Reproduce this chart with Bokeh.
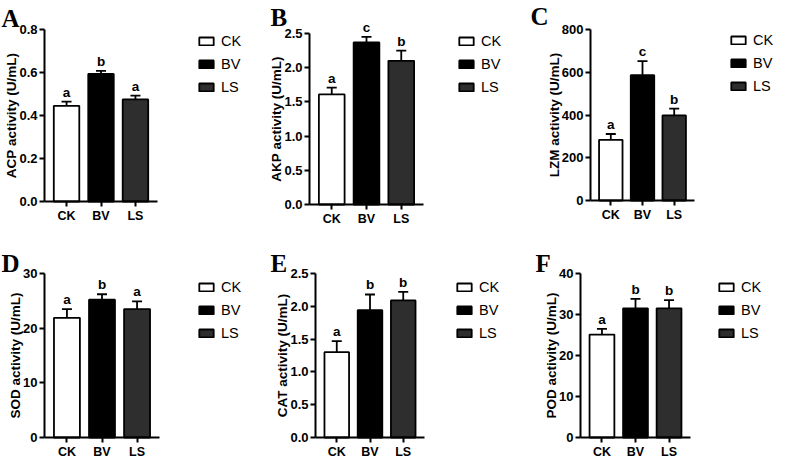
from bokeh.plotting import figure
from bokeh.models import (Range1d, FixedTicker, ColumnDataSource, Whisker,
                          TeeHead, Legend, LegendItem, Label, NumeralTickFormatter)
from bokeh.layouts import column, row
from bokeh.embed import file_html
from bokeh.resources import INLINE
from bokeh.core.properties import value

# ---------------- data ----------------
groups = ["CK", "BV", "LS"]
bar_colors = ["#ffffff", "#000000", "#2e2e2e"]

acp_mean = [0.445, 0.593, 0.475]
acp_sd = [0.020, 0.015, 0.017]
acp_letters = ["a", "b", "a"]
acp_ticks = [0.0, 0.2, 0.4, 0.6, 0.8]

akp_mean = [1.61, 2.37, 2.10]
akp_sd = [0.10, 0.08, 0.15]
akp_letters = ["a", "c", "b"]
akp_ticks = [0.0, 0.5, 1.0, 1.5, 2.0, 2.5]

lzm_mean = [284, 586, 398]
lzm_sd = [27, 66, 32]
lzm_letters = ["a", "c", "b"]
lzm_ticks = [0, 200, 400, 600, 800]

sod_mean = [21.9, 25.2, 23.5]
sod_sd = [1.6, 1.0, 1.4]
sod_letters = ["a", "b", "a"]
sod_ticks = [0, 10, 20, 30]

cat_mean = [1.30, 1.94, 2.09]
cat_sd = [0.17, 0.24, 0.13]
cat_letters = ["a", "b", "b"]
cat_ticks = [0.0, 0.5, 1.0, 1.5, 2.0, 2.5]

pod_mean = [25.1, 31.5, 31.5]
pod_sd = [1.4, 2.3, 2.0]
pod_letters = ["a", "b", "b"]
pod_ticks = [0, 10, 20, 30, 40]

SANS = "Liberation Sans"
SERIF = "Liberation Serif"
PAD = 0.64  # category padding (in category units) at both ends of the x axis

# layout (page px): fig x, fig y, width, height, y-axis x, x-axis end, top tick y, zero y,
#                   letter x, letter baseline, legend x, legend top
panels = [
    ("A", "ACP activity (U/mL)", acp_mean, acp_sd, acp_letters, acp_ticks, "0.0",
     (8, 8, 262, 228, 52, 165, 37, 209, 9, 26, 205, 39)),
    ("B", "AKP activity (U/mL)", akp_mean, akp_sd, akp_letters, akp_ticks, "0.0",
     (270, 8, 265, 228, 317, 431, 41, 212, 278, 25, 465, 39)),
    ("C", "LZM activity (U/mL)", lzm_mean, lzm_sd, lzm_letters, lzm_ticks, "0",
     (535, 8, 257, 228, 598, 702, 37, 208, 538, 24, 737, 38)),
    ("D", "SOD activity (U/mL)", sod_mean, sod_sd, sod_letters, sod_ticks, "0",
     (8, 236, 262, 232, 52, 167, 281, 445, 9, 271, 205, 285)),
    ("E", "CAT activity (U/mL)", cat_mean, cat_sd, cat_letters, cat_ticks, "0.0",
     (270, 236, 265, 232, 323, 432, 281, 445, 278, 271, 463, 285)),
    ("F", "POD activity (U/mL)", pod_mean, pod_sd, pod_letters, pod_ticks, "0",
     (535, 236, 257, 232, 588, 698, 281, 445, 543, 271, 725, 285)),
]


def make_panel(tag, ylabel, mean, sd, letters, ticks, fmt, lay):
    px, py, w, h, ax_x, ax_end, top_y, zero_y, lx, lb, gx, gt = lay
    pos = list(range(len(groups)))
    upper = [m + s for m, s in zip(mean, sd)]
    src = ColumnDataSource(dict(x=pos, mean=mean, upper=upper,
                                color=bar_colors, letter=letters))

    x_lo, x_hi = -PAD, (len(groups) - 1) + PAD
    pxu = (ax_end - ax_x) / (x_hi - x_lo)
    x_start = x_lo - (ax_x - px) / pxu
    x_end = x_hi + (px + w - ax_end) / pxu
    pyu = (zero_y - top_y) / (ticks[-1] - ticks[0])
    y_start = ticks[0] - (py + h - zero_y) / pyu
    y_end = ticks[-1] + (top_y - py) / pyu

    p = figure(width=w, height=h, output_backend="svg", toolbar_location=None,
               x_range=Range1d(x_start, x_end), y_range=Range1d(y_start, y_end),
               min_border=0)
    p.min_border_left = p.min_border_right = p.min_border_top = p.min_border_bottom = 0
    p.outline_line_color = None
    p.xgrid.visible = False
    p.ygrid.visible = False
    p.background_fill_color = "white"
    p.border_fill_color = "white"

    r = p.vbar(x="x", top="mean", bottom=0, width=0.74, source=src,
               fill_color="color", line_color="black", line_width=1.8)
    wh = Whisker(source=src, base="x", lower="mean", upper="upper",
                 dimension="height", line_color="black", line_width=1.8,
                 upper_head=TeeHead(size=10, line_width=1.8, line_color="black"),
                 lower_head=None)
    p.add_layout(wh)
    p.text(x="x", y="upper", text="letter", source=src, y_offset=-2,
           text_align="center", text_baseline="bottom",
           text_font=value(SANS), text_font_style="bold", text_font_size="13.5px",
           text_color="black")

    for ax in (p.xaxis[0], p.yaxis[0]):
        ax.axis_line_width = 2
        ax.axis_line_color = "black"
        ax.major_tick_line_width = 2
        ax.major_tick_line_color = "black"
        ax.major_tick_out = 5
        ax.major_tick_in = 0
        ax.minor_tick_line_color = None
        ax.major_label_text_font = SANS
        ax.major_label_text_font_style = "bold"
        ax.major_label_text_color = "black"

    p.xaxis.fixed_location = ticks[0]
    p.xaxis.bounds = (x_lo, x_hi)
    p.xaxis.ticker = FixedTicker(ticks=pos)
    p.xaxis.major_label_overrides = {i: g for i, g in zip(pos, groups)}
    p.xaxis.major_label_text_font_size = "12.5px"
    p.xaxis.major_label_standoff = 2

    p.yaxis.fixed_location = x_lo
    p.yaxis.bounds = (ticks[0], ticks[-1])
    p.yaxis.ticker = FixedTicker(ticks=ticks)
    p.yaxis.formatter = NumeralTickFormatter(format=fmt)
    p.yaxis.major_label_text_font_size = "13px"
    p.yaxis.major_label_standoff = 2
    p.yaxis.axis_label = ylabel
    p.yaxis.axis_label_text_font = SANS
    p.yaxis.axis_label_text_font_style = "bold"
    p.yaxis.axis_label_text_font_size = "13.5px"
    p.yaxis.axis_label_text_color = "black"
    p.yaxis.axis_label_standoff = -3

    p.add_layout(Label(x=lx - px, y=(py + h) - lb, x_units="screen", y_units="screen",
                       text=tag, text_font=SERIF, text_font_style="bold",
                       text_font_size="25px", text_color="black",
                       text_baseline="alphabetic", text_align="left"))

    items = [LegendItem(label=g, renderers=[r], index=i) for i, g in enumerate(groups)]
    leg_h = 3 * 20 + 2 * 3
    legend = Legend(items=items,
                    location=(gx - px, (py + h) - (gt + leg_h)),
                    glyph_width=18, glyph_height=10, label_standoff=6, spacing=3,
                    padding=0, margin=0, label_height=20,
                    border_line_color=None, background_fill_alpha=0,
                    label_text_font=SANS, label_text_font_size="14.5px",
                    label_text_color="black")
    p.add_layout(legend, "center")
    return p


figs = [make_panel(*pp) for pp in panels]
layout = column(row(*figs[:3]), row(*figs[3:]))

open("out.html", "w").write(file_html(layout, INLINE))
